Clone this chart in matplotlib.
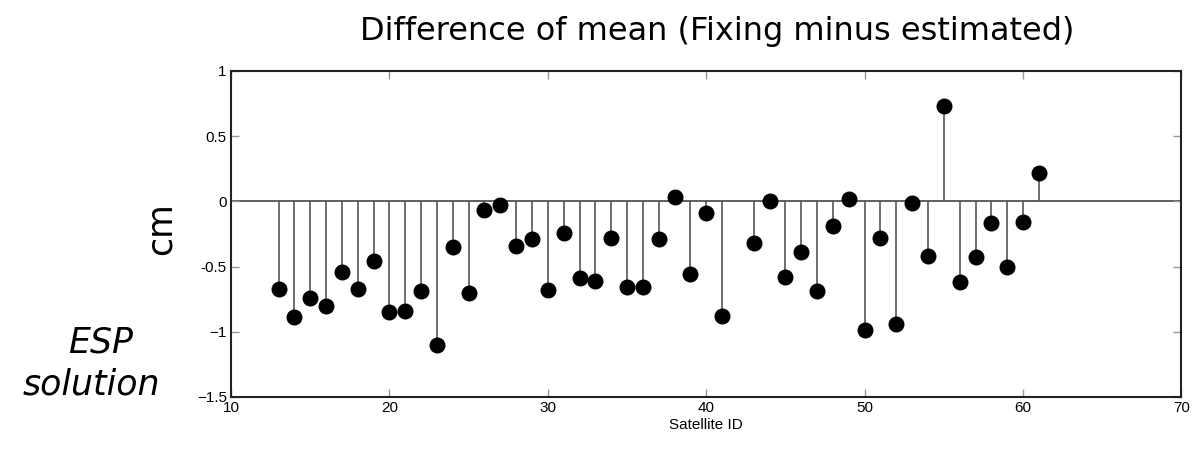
import matplotlib.pyplot as plt

# satellite IDs (42 is missing)
sat_ids = [13, 14, 15, 16, 17, 18, 19, 20, 21, 22, 23, 24, 25, 26, 27, 28, 29, 30,
           31, 32, 33, 34, 35, 36, 37, 38, 39, 40, 41, 43, 44, 45, 46, 47, 48, 49,
           50, 51, 52, 53, 54, 55, 56, 57, 58, 59, 60, 61]
# difference of mean, cm
diff_cm = [-0.67, -0.89, -0.74, -0.80, -0.54, -0.67, -0.46, -0.85, -0.84, -0.69,
           -1.10, -0.35, -0.70, -0.07, -0.03, -0.34, -0.29, -0.68, -0.24, -0.59,
           -0.61, -0.28, -0.66, -0.66, -0.29, 0.03, -0.56, -0.09, -0.88, -0.32,
           0.00, -0.58, -0.39, -0.69, -0.19, 0.02, -0.99, -0.28, -0.94, -0.01,
           -0.42, 0.73, -0.62, -0.43, -0.17, -0.50, -0.16, 0.22]

x_ticks = [10, 20, 30, 40, 50, 60, 70]
y_ticks = [-1.5, -1, -0.5, 0, 0.5, 1]

fig = plt.figure(figsize=(11.97, 4.49), dpi=100)
ax = fig.add_axes([0.193, 0.116, 0.794, 0.726])

# zero line and stems
ax.axhline(0, color="#333333", lw=1.1, zorder=1)
ax.vlines(sat_ids, 0, diff_cm, color="#555555", lw=1.2, zorder=2)
ax.plot(sat_ids, diff_cm, "o", color="black", markersize=10.5, zorder=3)

ax.set_xlim(10, 70)
ax.set_ylim(-1.5, 1)
ax.set_xticks(x_ticks)
ax.set_yticks(y_ticks)
ax.set_xticklabels([str(v) for v in x_ticks], family="Liberation Sans")
ax.set_yticklabels(["\u22121.5", "\u22121", "-0.5", "0", "0.5", "1"],
                   family="Liberation Sans")
ax.tick_params(direction="in", top=True, right=True, length=6, width=1,
               color="#999999", labelsize=11, pad=3)
for sp in ax.spines.values():
    sp.set_linewidth(1.5)
    sp.set_color("#222222")
ax.set_xlabel("Satellite ID", fontsize=11, labelpad=2, family="Liberation Sans")

# texts around the plot
fig.text(0.599, 0.93, "Difference of mean (Fixing minus estimated)",
         ha="center", va="center", fontsize=23)
fig.text(0.134, 0.492, "cm", rotation=90, ha="center", va="center", fontsize=25)
fig.text(0.111, 0.238, "ESP", ha="right", va="center", fontsize=25, style="italic")
fig.text(0.134, 0.143, "solution", ha="right", va="center", fontsize=25,
         style="italic")

fig.savefig("out.png", dpi=100)
